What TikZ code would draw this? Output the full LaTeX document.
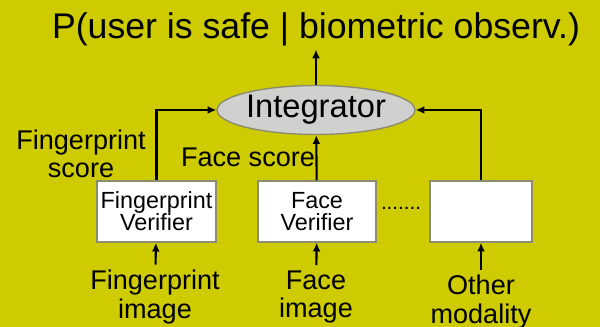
\documentclass[tikz,border=0pt]{standalone}
\usepackage{fontspec}
\setmainfont{Liberation Sans}
\usetikzlibrary{arrows.meta,shapes.geometric,positioning}
\definecolor{slidebg}{RGB}{206,204,0}
\definecolor{integfill}{RGB}{208,208,206}
\definecolor{boxedge}{RGB}{140,140,110}
\tikzset{
  verifbox/.style={draw=boxedge,fill=white,line width=0.8pt,minimum height=1.22cm,align=center,
    font=\fontsize{13.3}{12.5}\selectfont,inner sep=0pt},
  lbl/.style={align=center,font=\fontsize{15.4}{16}\selectfont,inner sep=0pt},
  arr/.style={line width=1.2pt,-{Latex[length=5pt,width=4.5pt]}}
}

\begin{document}
\begin{tikzpicture}[x=0.02cm,y=0.02cm]
  \fill[slidebg] (0,0) rectangle (600,-327);
  \useasboundingbox (0,0) rectangle (600,-327);
  % title and integrator
  \node[font=\fontsize{20.3}{22}\selectfont,inner sep=2pt] (title) at (316,-29) {P(user is safe | biometric observ.)};
  \node[ellipse,draw=boxedge,fill=integfill,line width=0.8pt,minimum width=3.42cm,minimum height=0.98cm,
    font=\fontsize{18.6}{20}\selectfont,inner sep=0pt] (integ) at (316,-110) {Integrator};
  % verifiers
  \node[verifbox,minimum width=2.38cm] (fpv) at (156.5,-211.5) {Fingerprint\\Verifier};
  \node[verifbox,minimum width=2.36cm] (facev) at (317,-211.5) {Face\\Verifier};
  \node[verifbox,minimum width=2.04cm] (othv) at (481,-211.5) {};
  \node[font=\fontsize{11.7}{12}\selectfont,inner sep=0pt] (dots) at (401,-208) {.......};
  % inputs
  \node[lbl,inner ysep=3pt] (fpimg) at (155,-297) {Fingerprint\\image};
  \node[lbl,inner ysep=3pt] (faceimg) at (316,-297) {Face\\image};
  \node[lbl,inner ysep=3pt] (othmod) at (481,-302) {Other\\modality};
  \draw[arr] (fpimg) -- (fpv);
  \draw[arr] (faceimg) -- (facev);
  \draw[arr] (othmod) -- (othv);
  % scores
  \node[lbl] (fpscore) at (81,-154) {Fingerprint\\score};
  \node[lbl] (facescore) at (248,-157) {Face score};
  \draw[arr] (fpv.north) |- (integ.west);
  \draw[arr] (facev) -- (integ);
  \draw[arr] (othv.north) |- (integ.east);
  \draw[arr] (integ) -- (title);
\end{tikzpicture}
\end{document}
